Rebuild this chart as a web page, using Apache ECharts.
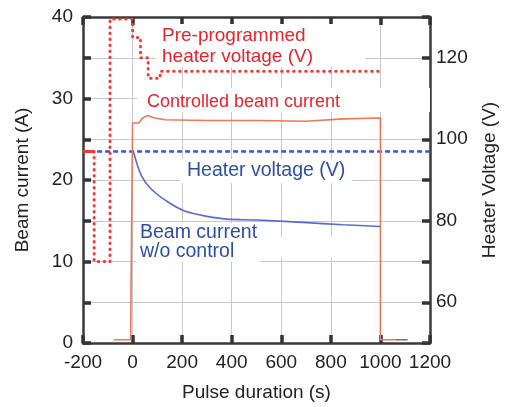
<!DOCTYPE html>
<html>
<head>
<meta charset="utf-8">
<style>
  html, body { margin: 0; padding: 0; background: #fff; }
  #chart { width: 507px; height: 407px; }
</style>
<script src="https://cdn.jsdelivr.net/npm/echarts@6/dist/echarts.min.js"></script>
</head>
<body>
<div id="chart"></div>
<script>
// pre-programmed heater voltage (V), step profile, right axis
const preTime = [-155, -155, -91, -91, 0, 0, 32, 32, 63, 63, 111, 111, 1000]
const preVolt = [97, 70, 70, 129.5, 129.5, 125, 125, 120, 120, 115, 115, 116.7, 116.7]
const preHoldTime = [-200, -155]
const preHoldVolt = [97, 97]

// heater voltage actually applied (V), right axis
const heaterTime = [-143, 1200]
const heaterVolt = [97, 97]

// controlled beam current (A), left axis
const ctrlTime = [-75, -8, 0, 0, 25, 40, 60, 90, 130, 300, 500, 700, 850, 1000, 1000, 1060]
const ctrlCurr = [0.4, 0.4, 0.4, 27.0, 27.0, 27.6, 27.9, 27.6, 27.4, 27.3, 27.3, 27.2, 27.5, 27.6, 0.4, 0.4]

// beam current without control (A), left axis
const freeTime = [4, 36, 75, 143, 210, 290, 381, 500, 686, 850, 1000]
const freeCurr = [23.4, 20.5, 18.9, 17.3, 16.2, 15.6, 15.2, 15.1, 14.8, 14.5, 14.3]
const freeTailTime = [1060, 1110]
const freeTailCurr = [0.4, 0.4]

const FONT = 'Liberation Sans, Arial, sans-serif'
const RED = '#e8232b'
const BLUE = '#2c4fa6'
const AXIS = '#333333'

const pairs = (xs, ys) => xs.map((x, i) => [x, ys[i]])

// fresh objects for every axis
const tickStyle = () => ({ show: true, inside: true, length: 8, lineStyle: { color: AXIS, width: 3.5 } })
const frame = () => ({ show: true, onZero: false, lineStyle: { color: '#3a3a3a', width: 2.5 } })
const gridLine = () => ({ show: true, showMinLine: false, showMaxLine: false, lineStyle: { color: '#c9c9c9', width: 1 } })
const noGrid = () => ({ show: true, lineStyle: { color: 'rgba(0,0,0,0)', width: 0 } })
const gridOnly = () => ({
  axisLine: { show: false, onZero: false }, axisTick: { show: false },
  axisLabel: { show: false }, splitLine: gridLine()
})

function box (x, y, w, h) {
  return { type: 'rect', z: 1, silent: true, shape: { x, y, width: w, height: h }, style: { fill: '#fff' } }
}
function note (txt, x, y, color, size) {
  return {
    type: 'text', z: 10, silent: true, x, y,
    style: { text: txt, fill: color, font: size + 'px ' + FONT, textVerticalAlign: 'middle' }
  }
}

const chart = echarts.init(document.getElementById('chart'))
chart.setOption({
  animation: false,
  grid: { left: 83, right: 70, top: 17, bottom: 62 },
  xAxis: [
    Object.assign({ type: 'value', min: -200, max: 1200, interval: 200, position: 'bottom' }, gridOnly()),
    {
      type: 'value', min: -200, max: 1200, interval: 200, position: 'bottom',
      axisLine: frame(), axisTick: tickStyle(), splitLine: noGrid(),
      axisLabel: { color: '#222', fontSize: 19, fontFamily: FONT, margin: 10, formatter: v => String(v) },
      name: 'Pulse duration (s)', nameLocation: 'middle', nameGap: 40,
      nameTextStyle: { color: '#222', fontSize: 19, fontFamily: FONT }
    },
    {
      type: 'value', min: -200, max: 1200, interval: 200, position: 'top',
      axisLine: frame(), axisTick: tickStyle(), splitLine: noGrid(),
      axisLabel: { show: false }
    }
  ],
  yAxis: [
    Object.assign({ type: 'value', min: 0, max: 40, interval: 5, position: 'left' }, gridOnly()),
    {
      type: 'value', min: 0, max: 40, interval: 5, position: 'left',
      axisLine: frame(), axisTick: tickStyle(), splitLine: noGrid(),
      axisLabel: {
        color: '#222', fontSize: 19, fontFamily: FONT, margin: 10,
        formatter: v => (v % 10 === 0 ? String(v) : '')
      },
      name: 'Beam current (A)', nameLocation: 'middle', nameGap: 51,
      nameTextStyle: { color: '#222', fontSize: 19, fontFamily: FONT }
    },
    {
      type: 'value', min: 50, max: 130, interval: 10, position: 'right',
      axisLine: frame(), axisTick: tickStyle(), splitLine: noGrid(),
      axisLabel: {
        color: '#222', fontSize: 19, fontFamily: FONT, margin: 6,
        formatter: v => (v % 20 === 0 && v > 50 && v < 130 ? String(v) : '')
      },
      name: 'Heater Voltage (V)', nameLocation: 'middle', nameGap: 50, nameRotate: 90,
      nameTextStyle: { color: '#222', fontSize: 19, fontFamily: FONT }
    }
  ],
  graphic: [
    box(155, 24, 210, 43),
    box(137, 88, 293, 24),
    box(180, 159, 172, 24),
    box(136, 223, 124, 39),
    box(260, 237, 140, 21),
    note('Pre-programmed', 162, 36, RED, 19),
    note('heater voltage (V)', 162, 57, RED, 19),
    note('Controlled beam current', 147, 102, RED, 18),
    note('Heater voltage (V)', 187, 171, BLUE, 19.5),
    note('Beam current', 140, 233, BLUE, 19.5),
    note('w/o control', 140, 252, BLUE, 19.5)
  ],
  series: [
    {
      name: 'Pre-programmed heater voltage', type: 'line', xAxisIndex: 1, yAxisIndex: 2,
      data: pairs(preTime, preVolt), showSymbol: false, z: 4,
      lineStyle: { color: '#ee3a36', width: 3, type: [0.5, 5.5], cap: 'round' }
    },
    {
      name: 'Pre-programmed hold', type: 'line', xAxisIndex: 1, yAxisIndex: 2,
      data: pairs(preHoldTime, preHoldVolt), showSymbol: false, z: 4,
      lineStyle: { color: '#ee3a36', width: 3 }
    },
    {
      name: 'Heater voltage', type: 'line', xAxisIndex: 1, yAxisIndex: 2,
      data: pairs(heaterTime, heaterVolt), showSymbol: false, z: 3,
      lineStyle: { color: '#3f58c4', width: 2.5, type: [5, 3] }
    },
    {
      name: 'Controlled beam current', type: 'line', xAxisIndex: 1, yAxisIndex: 1,
      data: pairs(ctrlTime, ctrlCurr), showSymbol: false, z: 3,
      lineStyle: { color: '#e9785c', width: 1.6 }
    },
    {
      name: 'Beam current w/o control', type: 'line', xAxisIndex: 1, yAxisIndex: 1,
      data: pairs(freeTime, freeCurr), showSymbol: false, smooth: 0.3, z: 3,
      lineStyle: { color: '#5c6ccb', width: 1.6 }
    },
    {
      name: 'Beam current w/o control tail', type: 'line', xAxisIndex: 1, yAxisIndex: 1,
      data: pairs(freeTailTime, freeTailCurr), showSymbol: false, z: 3,
      lineStyle: { color: '#5c6ccb', width: 1.6 }
    }
  ]
})
</script>
</body>
</html>
